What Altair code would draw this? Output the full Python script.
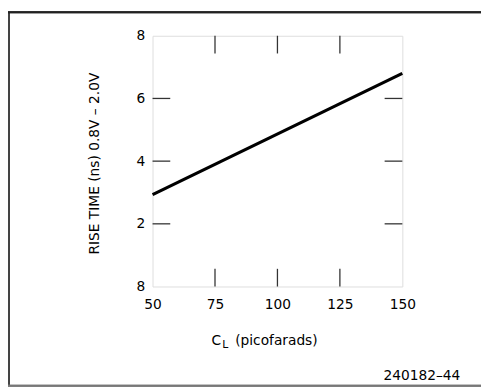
import altair as alt
import pandas as pd

# data
cap_pf = [50, 150]
rise_ns = [2.93, 6.8]
x_tick_values = [50, 75, 100, 125, 150]
y_tick_values = [0, 2, 4, 6, 8]
x_inner_ticks = [75, 100, 125]
y_inner_ticks = [2, 4, 6]

W, H = 254, 255
PAD_L, PAD_T, PAD_R, PAD_B = 147, 25, 80, 102
FONT = "DejaVu Sans"

line_df = pd.DataFrame({"cl": cap_pf, "t": rise_ns})
xt_df = pd.DataFrame({"v": x_inner_ticks})
yt_df = pd.DataFrame({"v": y_inner_ticks})

xscale = alt.Scale(domain=[50, 150], nice=False, zero=False)
yscale = alt.Scale(domain=[0, 8], nice=False, zero=False)

line = alt.Chart(line_df).mark_line(color="black", strokeWidth=3.2).encode(
    x=alt.X("cl:Q", scale=xscale,
            axis=alt.Axis(values=x_tick_values, ticks=False, domain=False, grid=False,
                          labelPadding=11, labelFontSize=14, labelFont=FONT,
                          labelColor="black", title=None, labelFlush=False)),
    y=alt.Y("t:Q", scale=yscale,
            axis=alt.Axis(values=y_tick_values, ticks=False, domain=False, grid=False,
                          labelPadding=8, labelFontSize=14, labelFont=FONT,
                          labelColor="black", title=None, labelFlush=False,
                          labelExpr="datum.value == 0 ? '8' : datum.label")),
)

tick_col = "#333333"
top_ticks = alt.Chart(xt_df).mark_rule(color=tick_col, strokeWidth=1.3).encode(
    x=alt.X("v:Q", scale=xscale), y=alt.value(0), y2=alt.value(18))
bot_ticks = alt.Chart(xt_df).mark_rule(color=tick_col, strokeWidth=1.3).encode(
    x=alt.X("v:Q", scale=xscale), y=alt.value(H - 18), y2=alt.value(H))
left_ticks = alt.Chart(yt_df).mark_rule(color=tick_col, strokeWidth=1.3).encode(
    y=alt.Y("v:Q", scale=yscale), x=alt.value(0), x2=alt.value(18))
right_ticks = alt.Chart(yt_df).mark_rule(color=tick_col, strokeWidth=1.3).encode(
    y=alt.Y("v:Q", scale=yscale), x=alt.value(W - 18), x2=alt.value(W))

frame_col = "#444444"
frame_left = alt.Chart(line_df).mark_rule(color=frame_col, strokeWidth=2).encode(
    x=alt.value(-146), y=alt.value(-24), y2=alt.value(356))
frame_top = alt.Chart(line_df).mark_rule(color="#222222", strokeWidth=2).encode(
    x=alt.value(-147), x2=alt.value(W + PAD_R), y=alt.value(-24))
frame_bot = alt.Chart(line_df).mark_rule(color="#777777", strokeWidth=2).encode(
    x=alt.value(-147), x2=alt.value(W + PAD_R), y=alt.value(356))

y_title = alt.Chart(pd.DataFrame({"s": ["RISE TIME (ns) 0.8V \u2013 2.0V"]})).mark_text(
    font=FONT, fontSize=14, angle=270, align="center", baseline="middle", color="black"
).encode(text="s:N", x=alt.value(-58), y=alt.value(130))

xt_c = alt.Chart(pd.DataFrame({"s": ["C"]})).mark_text(
    font=FONT, fontSize=14, align="left", baseline="middle", color="black"
).encode(text="s:N", x=alt.value(60), y=alt.value(310))
xt_l = alt.Chart(pd.DataFrame({"s": ["L"]})).mark_text(
    font=FONT, fontSize=11, align="left", baseline="middle", color="black"
).encode(text="s:N", x=alt.value(71), y=alt.value(315))
xt_rest = alt.Chart(pd.DataFrame({"s": ["(picofarads)"]})).mark_text(
    font=FONT, fontSize=14, align="left", baseline="middle", color="black"
).encode(text="s:N", x=alt.value(84), y=alt.value(310))

code = alt.Chart(pd.DataFrame({"s": ["240182\u201344"]})).mark_text(
    font=FONT, fontSize=14, align="right", baseline="middle", color="black"
).encode(text="s:N", x=alt.value(313), y=alt.value(346))

chart = alt.layer(
    frame_left, frame_top, frame_bot,
    top_ticks, bot_ticks, left_ticks, right_ticks,
    line, y_title, xt_c, xt_l, xt_rest, code,
).properties(
    width=W, height=H,
    autosize=alt.AutoSizeParams(type="none"),
    padding={"left": PAD_L, "top": PAD_T, "right": PAD_R, "bottom": PAD_B},
).configure_view(stroke="black", strokeWidth=2).configure(background="white")

chart.save("out.html", embed_options={"renderer": "svg", "actions": False})
